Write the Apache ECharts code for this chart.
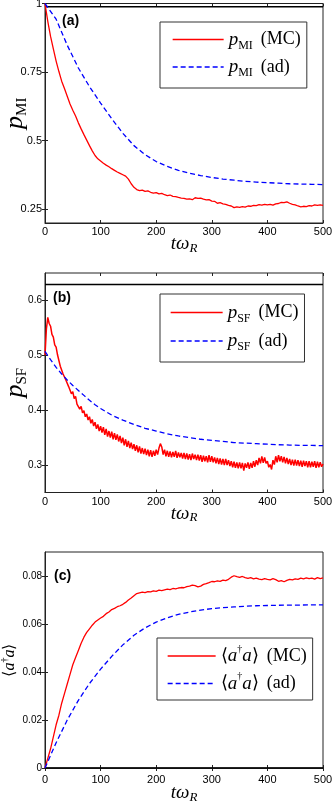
<!DOCTYPE html>
<html><head><meta charset="utf-8">
<script src="https://cdn.jsdelivr.net/npm/echarts@6/dist/echarts.min.js"></script>
<style>html,body{margin:0;padding:0;background:#fff}#c{width:332px;height:801px}</style>
</head><body><div id="c"></div>
<script>
// ---------- data ----------
const xTicks = [0, 100, 200, 300, 400, 500];
const yTicksA = [0.25, 0.5, 0.75, 1];
const yTicksB = [0.3, 0.4, 0.5, 0.6];
const yTicksC = [0, 0.02, 0.04, 0.06, 0.08];

// panel (a): p_MI, MC sampled every 5
const stepMI = 5;
const mcMI = [
 1.000,0.935,0.880,0.835,0.790,0.752,0.717,0.690,0.662,0.634,
 0.611,0.590,0.565,0.543,0.522,0.502,0.482,0.463,0.446,0.434,
 0.426,0.418,0.411,0.405,0.398,0.392,0.386,0.381,0.376,0.371,
 0.360,0.343,0.330,0.322,0.318,0.320,0.315,0.317,0.312,0.309,
 0.311,0.306,0.308,0.303,0.300,0.302,0.297,0.296,0.293,0.291,
 0.290,0.287,0.288,0.285,0.292,0.290,0.291,0.287,0.284,0.285,
 0.280,0.279,0.272,0.274,0.270,0.268,0.264,0.262,0.256,0.259,
 0.257,0.260,0.258,0.262,0.261,0.264,0.263,0.267,0.265,0.268,
 0.266,0.268,0.265,0.270,0.271,0.275,0.274,0.277,0.272,0.268,
 0.266,0.262,0.259,0.261,0.260,0.263,0.262,0.266,0.264,0.266,
 0.264];
const tAdMI = [0,20,40,60,80,100,120,140,160,180,200,220,240,260,280,300,320,340,360,380,400,420,440,460,480,500];
const adMI = [1.000,0.943,0.848,0.765,0.697,0.637,0.580,0.527,0.482,0.449,0.424,0.406,0.392,0.381,0.373,0.366,0.360,0.356,0.352,0.349,0.347,0.345,0.343,0.342,0.341,0.340];

// panel (b): p_SF, MC sampled every 2.5
const stepSF = 2.5;
const mcSF = [
 0.500,0.548,0.569,0.558,0.553,0.538,0.533,0.519,0.515,0.501,
 0.498,0.480,0.479,0.466,0.469,0.455,0.457,0.443,0.444,0.430,
 0.434,0.421,0.425,0.411,0.414,0.402,0.407,0.395,0.399,0.388,
 0.393,0.382,0.388,0.376,0.383,0.371,0.378,0.366,0.374,0.362,
 0.371,0.359,0.369,0.355,0.366,0.352,0.362,0.350,0.361,0.347,
 0.358,0.346,0.356,0.343,0.353,0.340,0.350,0.336,0.347,0.333,
 0.344,0.331,0.341,0.329,0.338,0.326,0.336,0.323,0.334,0.321,
 0.331,0.320,0.330,0.318,0.328,0.316,0.327,0.315,0.326,0.317,
 0.328,0.319,0.331,0.339,0.333,0.319,0.328,0.316,0.326,0.315,
 0.325,0.314,0.324,0.315,0.326,0.313,0.323,0.314,0.322,0.312,
 0.322,0.311,0.321,0.310,0.320,0.309,0.321,0.311,0.319,0.309,
 0.319,0.308,0.318,0.306,0.317,0.307,0.316,0.305,0.318,0.306,
 0.316,0.305,0.314,0.303,0.313,0.302,0.312,0.301,0.311,0.300,
 0.311,0.300,0.309,0.298,0.307,0.296,0.306,0.295,0.305,0.294,
 0.305,0.294,0.304,0.290,0.303,0.295,0.305,0.293,0.304,0.295,
 0.307,0.297,0.309,0.300,0.313,0.303,0.316,0.304,0.314,0.303,
 0.307,0.296,0.301,0.292,0.309,0.301,0.316,0.305,0.318,0.307,
 0.316,0.305,0.315,0.303,0.313,0.302,0.311,0.300,0.310,0.299,
 0.310,0.299,0.309,0.298,0.308,0.297,0.308,0.298,0.307,0.296,
 0.307,0.296,0.306,0.297,0.307,0.295,0.306,0.296,0.305,0.297,
 0.302];
const tAdSF = [0,10,20,30,40,50,60,70,80,90,100,120,140,160,180,200,220,240,260,280,300,320,340,360,380,400,420,440,460,480,500];
const adSF = [0.507,0.492,0.478,0.466,0.455,0.445,0.436,0.427,0.418,0.410,0.403,0.391,0.382,0.374,0.367,0.362,0.357,0.353,0.350,0.347,0.345,0.343,0.341,0.340,0.339,0.338,0.337,0.3365,0.336,0.3357,0.3355];

// panel (c): <a^dagger a>, MC sampled every 5
const stepN = 5;
const mcN = [
 0.000,0.004,0.008,0.013,0.018,0.022,0.027,0.031,0.035,0.039,
 0.043,0.046,0.049,0.052,0.0545,0.0565,0.058,0.0595,0.0608,0.0617,
 0.0625,0.0632,0.0643,0.065,0.066,0.0665,0.0672,0.0676,0.0682,0.069,
 0.070,0.0708,0.0718,0.0727,0.073,0.0733,0.0731,0.0735,0.0734,0.0738,
 0.0736,0.0741,0.0739,0.0742,0.0745,0.0743,0.0748,0.0746,0.075,0.0752,
 0.0751,0.0756,0.0758,0.0762,0.076,0.0755,0.0758,0.0765,0.0768,0.0772,
 0.0777,0.0776,0.078,0.0778,0.0783,0.0781,0.0786,0.0795,0.0801,0.0797,
 0.0794,0.0798,0.0793,0.079,0.0793,0.0788,0.0791,0.0787,0.0785,0.0789,
 0.0786,0.0784,0.0789,0.0785,0.0778,0.0781,0.0776,0.0782,0.0786,0.0784,
 0.0788,0.0786,0.0791,0.0788,0.0792,0.0789,0.0791,0.0787,0.0793,0.0789,
 0.0792];
const tAdN = [0,20,40,60,80,100,120,140,160,180,200,220,240,260,280,300,320,340,360,380,400,420,440,460,480,500];
const adN = [0,0.0105,0.0200,0.0282,0.0352,0.0412,0.0465,0.0513,0.0553,0.0584,0.0608,0.0626,0.0640,0.0650,0.0658,0.0664,0.0668,0.0671,0.0674,0.0676,0.0677,0.0678,0.0679,0.0679,0.0680,0.0680];

// constant black reference lines (one per panel)
const refLevel = [0.988, 0.629, 0];
const xRange = [0, 500];
const yRanges = [[0.2, 1], [0.25, 0.65], [0, 0.09]];

// ---------- helpers ----------
const grid = (ts, arr) => arr.map((v, i) => [ts[i], v]);
const sampled = (step, arr) => arr.map((v, i) => [i * step, v]);

const SERIF = 'Liberation Serif';
const SANS = 'Liberation Sans';
const richBase = {
  i: {fontFamily: SERIF, fontStyle: 'italic', fontSize: 19, lineHeight: 24, color: '#000'},
  s: {fontFamily: SERIF, fontSize: 12, lineHeight: 14, verticalAlign: 'bottom', color: '#000'},
  r: {fontFamily: SERIF, fontSize: 18, lineHeight: 24, color: '#000'},
  sup: {fontFamily: SERIF, fontSize: 10, lineHeight: 12, verticalAlign: 'top', color: '#000'},
  g: {width: 8, fontSize: 10}
};
const legendText = {
  MI_MC: '{i|p}{s|MI}{g| }{r|(MC)}',
  MI_ad: '{i|p}{s|MI}{g| }{r|(ad)}',
  SF_MC: '{i|p}{s|SF}{g| }{r|(MC)}',
  SF_ad: '{i|p}{s|SF}{g| }{r|(ad)}',
  N_MC: '{r|⟨}{i|a}{sup|†}{i|a}{r|⟩}{g| }{r|(MC)}',
  N_ad: '{r|⟨}{i|a}{sup|†}{i|a}{r|⟩}{g| }{r|(ad)}'
};

const FRAME = '#222';
const grids = [
  {left: 45, right: 9, top: 3.5, height: 219.5},
  {left: 45, right: 9, top: 273, height: 219.5},
  {left: 45, right: 9, top: 552, height: 216}
].map(g => Object.assign(g, {show: true, borderColor: FRAME, borderWidth: 1, backgroundColor: 'transparent',
                              containLabel: false, outerBoundsMode: 'none'}));

const xLabelMargin = [3, 4, 6];
const xNameGap = [10, 10, 14];
const yTicks = [yTicksA, yTicksB, yTicksC];
const yNames = ['{I|p}{S|MI}', '{I|p}{S|SF}', '{R|⟨}{I2|a}{SUP|†}{I2|a}{R|⟩}'];
const yNameGap = [15, 15, 25];
const yLabelSize = [11, 10, 10];

const yRich = {
  I: {fontFamily: SERIF, fontStyle: 'italic', fontSize: 26, lineHeight: 30, color: '#000'},
  S: {fontFamily: SERIF, fontSize: 15, lineHeight: 18, verticalAlign: 'bottom', color: '#000'},
  R: {fontFamily: SERIF, fontSize: 16, lineHeight: 20, color: '#000'},
  I2: {fontFamily: SERIF, fontStyle: 'italic', fontSize: 16, lineHeight: 20, color: '#000'},
  SUP: {fontFamily: SERIF, fontSize: 10, lineHeight: 10, verticalAlign: 'top', color: '#000'}
};
const xRich = {
  i: {fontFamily: SERIF, fontStyle: 'italic', fontSize: 19, lineHeight: 22, color: '#000'},
  s: {fontFamily: SERIF, fontStyle: 'italic', fontSize: 13, lineHeight: 14, verticalAlign: 'bottom', color: '#000'}
};

const xAxes = [], yAxes = [];
for (let k = 0; k < 3; k++) {
  xAxes.push({
    type: 'value', gridIndex: k, min: xRange[0], max: xRange[1], position: 'bottom',
    axisLine: {show: true, lineStyle: {color: FRAME, width: 1}},
    axisTick: {inside: true, length: 3, lineStyle: {color: FRAME}, customValues: xTicks},
    axisLabel: {customValues: xTicks, margin: xLabelMargin[k], fontSize: 11, fontFamily: SANS, color: '#000'},
    splitLine: {show: false},
    name: '{i|tω}{s|R}', nameLocation: 'middle', nameGap: xNameGap[k], nameMoveOverlap: false,
    nameTextStyle: {rich: xRich}
  });
  xAxes.push({
    type: 'value', gridIndex: k, min: xRange[0], max: xRange[1], position: 'top',
    axisLine: {show: false},
    axisTick: {inside: true, length: 3, lineStyle: {color: FRAME}, customValues: xTicks},
    axisLabel: {show: false}, splitLine: {show: false}
  });
  yAxes.push({
    type: 'value', gridIndex: k, min: yRanges[k][0], max: yRanges[k][1], position: 'left',
    axisLine: {show: true, lineStyle: {color: FRAME, width: 1}},
    axisTick: {inside: true, length: 3, lineStyle: {color: FRAME}, customValues: yTicks[k]},
    axisLabel: {customValues: yTicks[k], margin: 3, fontSize: yLabelSize[k], fontFamily: SANS, color: '#000',
                formatter: v => String(+v.toFixed(4))},
    splitLine: {show: false},
    name: yNames[k], nameLocation: 'middle', nameRotate: 90, nameGap: yNameGap[k], nameMoveOverlap: false,
    nameTextStyle: {rich: yRich}
  });
  yAxes.push({
    type: 'value', gridIndex: k, min: yRanges[k][0], max: yRanges[k][1], position: 'right',
    axisLine: {show: false},
    axisTick: {inside: true, length: 3, lineStyle: {color: FRAME}, customValues: yTicks[k]},
    axisLabel: {show: false}, splitLine: {show: false}
  });
}

const lineSeries = (name, data, k, color, dashed, w) => ({
  name, type: 'line', data, xAxisIndex: 2 * k, yAxisIndex: 2 * k,
  showSymbol: false, symbol: 'none', smooth: false, silent: true,
  lineStyle: {color, width: w || 1.3, type: dashed ? [5, 3] : 'solid'},
  itemStyle: {color}
});
const refSeries = k => ({
  type: 'line', data: [[xRange[0], refLevel[k]], [xRange[1], refLevel[k]]],
  xAxisIndex: 2 * k, yAxisIndex: 2 * k, symbol: 'none', silent: true,
  lineStyle: {color: '#000', width: 1.5}, z: 1
});

const series = [
  refSeries(0), refSeries(1), refSeries(2),
  lineSeries('MI_MC', sampled(stepMI, mcMI), 0, '#ff0000', false),
  lineSeries('MI_ad', grid(tAdMI, adMI), 0, '#0000ff', true),
  lineSeries('SF_MC', sampled(stepSF, mcSF), 1, '#ff0000', false, 1.5),
  lineSeries('SF_ad', grid(tAdSF, adSF), 1, '#0000ff', true),
  lineSeries('N_MC', sampled(stepN, mcN), 2, '#ff0000', false),
  lineSeries('N_ad', grid(tAdN, adN), 2, '#0000ff', true)
];

const mkLegend = (names, left, top, pad, gap, iw) => ({
  data: names, orient: 'vertical', left, top, padding: pad, itemGap: gap,
  itemWidth: iw, itemHeight: 14, selectedMode: false,
  borderColor: '#333', borderWidth: 1, backgroundColor: '#fff', borderRadius: 0,
  itemStyle: {opacity: 0},
  lineStyle: {width: 1.3},
  formatter: n => legendText[n],
  textStyle: {rich: richBase}
});

const option = {
  animation: false,
  backgroundColor: '#fff',
  grid: grids,
  xAxis: xAxes,
  yAxis: yAxes,
  legend: [
    mkLegend(['MI_MC', 'MI_ad'], 160, 22, [8, 6, 9, 12], 6, 51),
    mkLegend(['SF_MC', 'SF_ad'], 160, 294, [9, 6, 9, 10], 7, 52),
    mkLegend(['N_MC', 'N_ad'], 157, 638, [6, 6, 7, 10], 6, 48)
  ],
  graphic: [
    {type: 'text', left: 62, top: 14, style: {text: '(a)', font: 'bold 14px "Liberation Sans"', fill: '#000'}},
    {type: 'text', left: 53, top: 291, style: {text: '(b)', font: 'bold 14px "Liberation Sans"', fill: '#000'}},
    {type: 'text', left: 54, top: 569, style: {text: '(c)', font: 'bold 14px "Liberation Sans"', fill: '#000'}}
  ],
  series
};

const chart = echarts.init(document.getElementById('c'), null, {renderer: 'canvas'});
chart.setOption(option);
</script>
</body></html>
